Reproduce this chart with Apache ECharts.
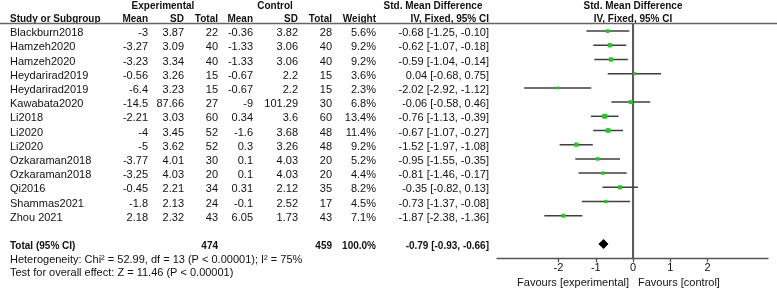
<!DOCTYPE html>
<html>
<head>
<meta charset="utf-8">
<script src="https://cdn.jsdelivr.net/npm/echarts@6/dist/echarts.min.js"></script>
<style>
html,body{margin:0;padding:0;background:#fff;}
#main{width:777px;height:289px;}
</style>
</head>
<body>
<div id="main"></div>
<script>
var studies = ['Blackburn2018','Hamzeh2020','Hamzeh2020','Heydarirad2019','Heydarirad2019','Kawabata2020','Li2018','Li2020','Li2020','Ozkaraman2018','Ozkaraman2018','Qi2016','Shammas2021','Zhou 2021'];
var expMean = [-3,-3.27,-3.23,-0.56,-6.4,-14.5,-2.21,-4,-5,-3.77,-3.25,-0.45,-1.8,2.18];
var expSD = [3.87,3.09,3.34,3.26,3.23,87.66,3.03,3.45,3.62,4.01,4.03,2.21,2.13,2.32];
var expN = [22,40,40,15,15,27,60,52,52,30,20,34,24,43];
var ctrlMean = [-0.36,-1.33,-1.33,-0.67,-0.67,-9,0.34,-1.6,0.3,0.1,0.1,0.31,-0.1,6.05];
var ctrlSD = [3.82,3.06,3.06,2.2,2.2,101.29,3.6,3.68,3.26,4.03,4.03,2.12,2.52,1.73];
var ctrlN = [28,40,40,15,15,30,60,48,48,20,20,35,17,43];
var weight = [5.6,9.2,9.2,3.6,2.3,6.8,13.4,11.4,9.2,5.2,4.4,8.2,4.5,7.1];
var smd = [-0.68,-0.62,-0.59,0.04,-2.02,-0.06,-0.76,-0.67,-1.52,-0.95,-0.81,-0.35,-0.73,-1.87];
var ciLow = [-1.25,-1.07,-1.04,-0.68,-2.92,-0.58,-1.13,-1.07,-1.97,-1.55,-1.46,-0.82,-1.37,-2.38];
var ciHigh = [-0.10,-0.18,-0.14,0.75,-1.12,0.46,-0.39,-0.27,-1.08,-0.35,-0.17,0.13,-0.08,-1.36];
var totalExpN = 474, totalCtrlN = 459;
var totalSmd = [-0.79, -0.93, -0.66];
var tickValues = [-2,-1,0,1,2];

var FONT = 'Liberation Sans, Arial, sans-serif';
var chart = echarts.init(document.getElementById('main'), null, {renderer:'canvas'});

function fmtCI(m, l, h){
    return m.toFixed(2) + ' [' + l.toFixed(2) + ', ' + h.toFixed(2) + ']';
}

var studyData = [];
for (var i = 0; i < studies.length; i++) {
    studyData.push([i, smd[i], ciLow[i], ciHigh[i], weight[i]]);
}
var totalRow = studies.length + 1;

var option = {
    animation: false,
    grid: {left: 497, right: 9, top: 24, bottom: 30.7},
    xAxis: {
        type: 'value', min: -3.65, max: 3.62,
        splitLine: {show: false},
        axisLine: {show: true, onZero: false, lineStyle: {color: '#555', width: 1.3}},
        axisTick: {show: true, customValues: tickValues, length: 4, lineStyle: {color: '#555', width: 1.3}},
        axisLabel: {customValues: tickValues, color: '#111', fontSize: 11, fontFamily: FONT, margin: 4}
    },
    yAxis: {
        type: 'value', inverse: true, min: -0.5, max: 16,
        axisLine: {show: true, onZero: true, lineStyle: {color: '#5a5a5a', width: 2}},
        axisTick: {show: false},
        axisLabel: {show: false},
        splitLine: {show: false}
    },
    series: [
        {
            // line of no effect, drawn as a thin filled bar
            type: 'custom',
            data: [[0, -0.5, 16]],
            renderItem: function(params, api){
                var a = api.coord([api.value(0), api.value(1)]);
                var b = api.coord([api.value(0), api.value(2)]);
                return {type: 'rect',
                        shape: {x: a[0] - 1, y: a[1], width: 2, height: b[1] - a[1]},
                        style: {fill: '#5a5a5a'}};
            },
            z: 2
        },
        {
            type: 'custom',
            data: studyData,
            renderItem: function(params, api){
                var row = api.value(0);
                var c = api.coord([api.value(1), row]);
                var l = api.coord([api.value(2), row]);
                var h = api.coord([api.value(3), row]);
                var s = 1.3 + Math.sqrt(api.value(4));
                return {
                    type: 'group',
                    children: [
                        {type: 'line', shape: {x1: l[0], y1: l[1], x2: h[0], y2: h[1]},
                         style: {stroke: '#3f3f3f', lineWidth: 1.5}},
                        {type: 'rect', shape: {x: c[0] - s/2, y: c[1] - s/2, width: s, height: s},
                         style: {fill: '#22c922'}}
                    ]
                };
            },
            z: 3
        },
        {
            type: 'custom',
            data: [[totalRow, totalSmd[0], totalSmd[1], totalSmd[2]]],
            renderItem: function(params, api){
                var row = api.value(0);
                var c = api.coord([api.value(1), row]);
                var l = api.coord([api.value(2), row]);
                var h = api.coord([api.value(3), row]);
                return {
                    type: 'polygon',
                    shape: {points: [[l[0], c[1]], [c[0], c[1] - 5], [h[0], c[1]], [c[0], c[1] + 5]]},
                    style: {fill: '#000'}
                };
            },
            z: 4
        }
    ]
};
chart.setOption(option);

// table text
function rowY(r){ return chart.convertToPixel({yAxisIndex: 0}, r) + 2; }
var texts = [];
function txt(x, y, s, align, bold, size){
    texts.push({
        type: 'text', x: x, y: y, silent: true,
        style: {text: s, textAlign: align || 'left', textVerticalAlign: 'middle',
                fill: '#111', fontFamily: FONT, fontSize: size || 11, fontWeight: bold ? 'bold' : 'normal'}
    });
}
var colX = {study: 10, eMean: 148, eSD: 184, eN: 218, cMean: 253, cSD: 298, cN: 332, w: 376, ci: 489};

// headers
txt(163, 6, 'Experimental', 'center', true, 10);
txt(275, 6, 'Control', 'center', true, 10);
txt(433, 6, 'Std. Mean Difference', 'center', true, 10);
txt(633, 6, 'Std. Mean Difference', 'center', true, 10);
txt(colX.study, 19, 'Study or Subgroup', 'left', true, 10);
txt(colX.eMean, 19, 'Mean', 'right', true, 10);
txt(colX.eSD, 19, 'SD', 'right', true, 10);
txt(colX.eN, 19, 'Total', 'right', true, 10);
txt(colX.cMean, 19, 'Mean', 'right', true, 10);
txt(colX.cSD, 19, 'SD', 'right', true, 10);
txt(colX.cN, 19, 'Total', 'right', true, 10);
txt(colX.w, 19, 'Weight', 'right', true, 10);
txt(colX.ci, 19, 'IV, Fixed, 95% CI', 'right', true, 10);
txt(633, 19, 'IV, Fixed, 95% CI', 'center', true, 10);

for (var k = 0; k < studies.length; k++) {
    var y = rowY(k);
    txt(colX.study, y, studies[k]);
    txt(colX.eMean, y, String(expMean[k]), 'right');
    txt(colX.eSD, y, String(expSD[k]), 'right');
    txt(colX.eN, y, String(expN[k]), 'right');
    txt(colX.cMean, y, String(ctrlMean[k]), 'right');
    txt(colX.cSD, y, String(ctrlSD[k]), 'right');
    txt(colX.cN, y, String(ctrlN[k]), 'right');
    txt(colX.w, y, weight[k].toFixed(1) + '%', 'right');
    txt(colX.ci, y, fmtCI(smd[k], ciLow[k], ciHigh[k]), 'right');
}
var ty = rowY(totalRow);
txt(colX.study, ty, 'Total (95% CI)', 'left', true, 10);
txt(colX.eN, ty, String(totalExpN), 'right', true, 10);
txt(colX.cN, ty, String(totalCtrlN), 'right', true, 10);
txt(colX.w, ty, '100.0%', 'right', true, 10);
txt(colX.ci, ty, fmtCI(totalSmd[0], totalSmd[1], totalSmd[2]), 'right', true, 10);
txt(colX.study, rowY(totalRow + 0.95), 'Heterogeneity: Chi\u00b2 = 52.99, df = 13 (P < 0.00001); I\u00b2 = 75%');
txt(colX.study, rowY(totalRow + 1.9), 'Test for overall effect: Z = 11.46 (P < 0.00001)');

// favours labels
txt(629, 283, 'Favours [experimental]', 'right');
txt(638, 283, 'Favours [control]', 'left');

// header rule
texts.push({type: 'line', silent: true, shape: {x1: 0, y1: 23.5, x2: 777, y2: 23.5},
            style: {stroke: '#666', lineWidth: 1.5}});

chart.setOption({graphic: texts});
</script>
</body>
</html>
